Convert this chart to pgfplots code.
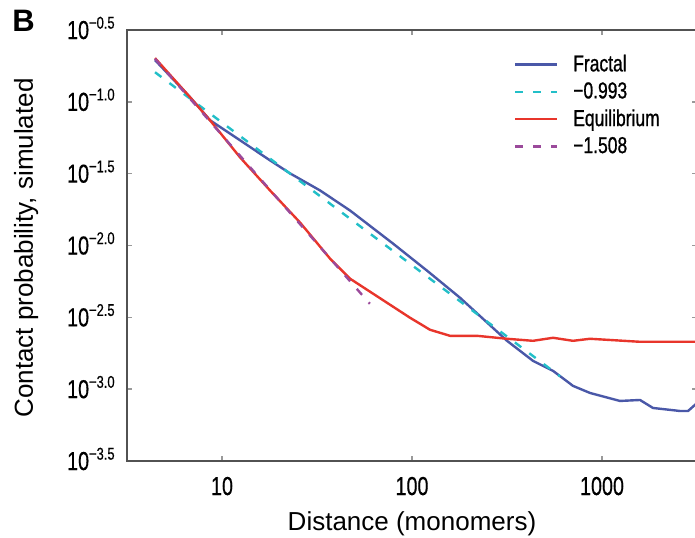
\documentclass[border=0pt]{standalone}
\usepackage{fontspec}
\setmainfont{Liberation Sans}
\newfontfamily\condfont{Liberation Sans}[FakeStretch=0.76, FakeBold=0.4]
\newfontfamily\legfont{Liberation Sans}[FakeStretch=0.76, FakeBold=0.9]
\usepackage{pgfplots}
\pgfplotsset{compat=1.18}
\definecolor{fractal}{HTML}{4A58A8}
\definecolor{fitcyan}{HTML}{22BFC8}
\definecolor{equil}{HTML}{E8352B}
\definecolor{fitpurple}{HTML}{9B4A9B}
\newcommand{\ylab}[1]{{\condfont\fontsize{13}{15}\selectfont 10\raisebox{5.2pt}{\fontsize{8.5}{9}\selectfont −#1}}}

\begin{document}
\begin{tikzpicture}
\begin{axis}[
  name=ax, at={(0,0)}, anchor=south west,
  xmode=log, ymode=log,
  scale only axis, width=285pt, height=215.5pt,
  xmin=3.16228, xmax=3162.28, ymin=3.16228e-4, ymax=0.316228,
  xtick={10,100,1000}, xticklabels={10,100,1000},
  ytick={0.316228,0.1,0.0316228,0.01,0.00316228,0.001,0.000316228},
  yticklabels={\ylab{0.5},\ylab{1.0},\ylab{1.5},\ylab{2.0},\ylab{2.5},\ylab{3.0},\ylab{3.5}},
  xminorticks=false, yminorticks=false,
  tick align=inside, major tick length=2.5pt,
  tick style={color=black!40, line width=0.8pt},
  axis line style={color=black!68, line width=1.1pt},
  xticklabel style={font=\condfont\fontsize{13}{15}\selectfont, anchor=base, inner sep=0pt, yshift=-17pt},
  yticklabel style={anchor=base east, inner sep=0pt, xshift=-6pt, yshift=-4.5pt},
  legend style={at={(0.678,0.953)}, anchor=north west, draw=none, fill=none,
    inner sep=0pt, row sep=0pt, font=\legfont\fontsize{11.5}{13}\selectfont,
    /tikz/every odd column/.append style={column sep=5.5pt}},
  legend cell align=left,
  legend image code/.code={\draw[#1] (0pt,0pt) -- (21pt,0pt);},
]
\addplot[fractal, line width=1.2pt] coordinates {
  (4.44,0.1953) (6.79,0.1077) (8.65,0.0744) (12.44,0.0540) (17.89,0.03916)
  (22.80,0.03178) (32.79,0.02418) (47.17,0.01753) (79.4,0.01032) (119.9,0.006687)
  (178.9,0.004331) (316.2,0.002171) (433.5,0.001574) (552.4,0.001341) (703.8,0.001054)
  (864.9,0.000941) (1243,0.000828) (1585,0.000841) (1855,0.000740) (2574,0.000705)
  (2836,0.000705) (3162,0.000800)};
\addlegendentry{Fractal}
\addplot[fitcyan, line width=1.2pt, dash pattern=on 4pt off 5pt] coordinates {
  (4.44,0.1607) (601,0.001229)};
\addlegendentry{−0.993}
\addplot[equil, line width=1.2pt] coordinates {
  (4.44,0.2016) (6.79,0.1077) (8.65,0.0744) (12.44,0.04110) (17.89,0.02418)
  (25.74,0.01446) (37.02,0.008110) (47.17,0.005879) (60.09,0.004772)
  (97.6,0.003143) (124.4,0.002591) (158.5,0.002352) (219.9,0.002352) (316.2,0.002243)
  (433.5,0.002171) (552.4,0.002279) (703.8,0.002171) (864.9,0.002243) (1585,0.002137)
  (3162,0.002137)};
\addlegendentry{Equilibrium}
\addplot[fitpurple, line width=1.2pt, dash pattern=on 4pt off 5pt] coordinates {
  (4.44,0.1994) (60,0.003932)};
\addlegendentry{−1.508}
\end{axis}
\node[anchor=north west, inner sep=0pt, font=\bfseries\fontsize{15.5}{17}\selectfont] at (-57.5pt,225.5pt) {B};
\node[rotate=90, anchor=base, inner sep=0pt, font=\fontsize{13}{15}\selectfont] at (-47pt,106.5pt) {Contact probability, simulated};
\node[anchor=base, inner sep=0pt, font=\fontsize{13}{15}\selectfont] at (142.5pt,-34.5pt) {Distance (monomers)};
\pgfresetboundingbox
\path[use as bounding box] (-63.5pt,-38pt) rectangle (284pt,230.5pt);
\end{tikzpicture}
\end{document}
